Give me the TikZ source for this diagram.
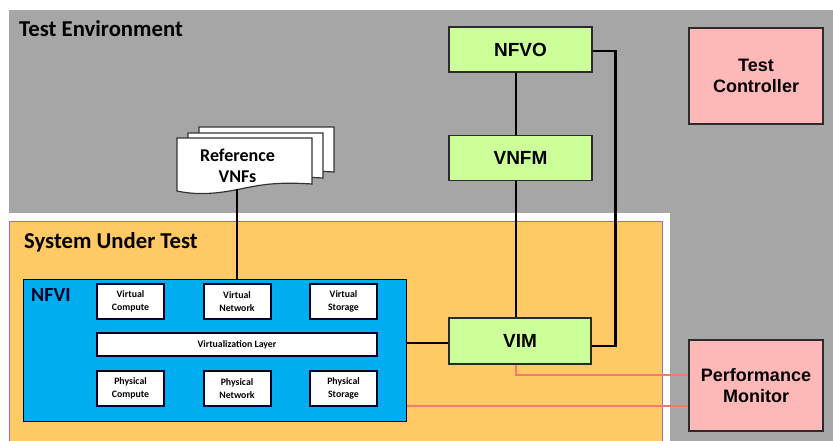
\documentclass[tikz,border=0pt]{standalone}
\usepackage{fontspec}
\newfontfamily\calib{Carlito}
\newfontfamily\arialf{Liberation Sans}
\definecolor{envgray}{HTML}{A6A6A6}
\definecolor{sutorange}{HTML}{FFC966}
\definecolor{sutedge}{HTML}{9E6FB0}
\definecolor{nfviblue}{HTML}{00AEEF}
\definecolor{boxgreen}{HTML}{CCFF99}
\definecolor{boxpink}{HTML}{FFB8B8}
\definecolor{redline}{HTML}{F47A6C}
\definecolor{darkedge}{HTML}{2B2B2B}
\tikzset{
  greenbox/.style={draw=darkedge, line width=1.3pt, fill=boxgreen, minimum width=143pt, minimum height=45pt, inner sep=0pt, font=\arialf\bfseries\fontsize{19}{22}\selectfont},
  pinkbox/.style={draw=darkedge, line width=1.3pt, fill=boxpink, minimum width=134pt, inner sep=0pt, align=center, font=\arialf\bfseries\fontsize{18}{21.5}\selectfont},
  smallbox/.style={draw=black!85!blue, line width=2pt, fill=white, minimum width=67pt, minimum height=35pt, inner sep=0pt, align=center, font=\calib\bfseries\fontsize{9.8}{12.5}\selectfont},
  conn/.style={line width=2.9pt, black},
  mon/.style={line width=2.4pt, redline},
  sheet/.style={draw=black!80, line width=1.2pt, fill=white},
  title/.style={anchor=base west, inner sep=0pt, font=\calib\bfseries\fontsize{22.7}{26}\selectfont}
}
\begin{document}
\begin{tikzpicture}[x=1pt,y=-1pt]
\useasboundingbox (0,0) rectangle (833,441);
\fill[white] (0,0) rectangle (833,441);
% environment
\fill[envgray] (9,10) rectangle (833,441);
\node[title] (envtitle) at (19,36.5) {Test Environment};
% SUT
\fill[white] (0,213) rectangle (670,441);
\filldraw[fill=sutorange, draw=sutedge, line width=0.8pt] (9,221) rectangle (662,445);
\node[title] (suttitle) at (24,248) {System Under Test};
% NFVI
\node[draw=black!80!blue, line width=1pt, fill=nfviblue, minimum width=383pt, minimum height=142pt, inner sep=0pt] (nfvi) at (214.5,350) {};
\node[anchor=base west, inner sep=0pt, font=\calib\bfseries\fontsize{20}{24}\selectfont, text=black!85!blue] (nfvilabel) at (31,301) {NFVI};
\node[smallbox] (vc) at (130.5,301.5) {Virtual\\Compute};
\node[smallbox] (vn) at (237,301.5) {Virtual\\Network};
\node[smallbox] (vs) at (343.5,301.5) {Virtual\\Storage};
\node[smallbox, minimum width=280pt, minimum height=23pt] (vl) at (237,344.5) {Virtualization Layer};
\node[smallbox] (pc) at (130.5,388.5) {Physical\\Compute};
\node[smallbox] (pn) at (237,388.5) {Physical\\Network};
\node[smallbox] (ps) at (343.5,388.5) {Physical\\Storage};
% Reference VNFs document stack
\path[sheet] (199,127) -- (334,127) -- (334,172) .. controls (300,170) and (270,172) .. (250,177) .. controls (230,182) and (215,184) .. (199,180) -- cycle;
\path[sheet] (188,133) -- (323,133) -- (323,178) .. controls (290,176) and (260,178) .. (240,183) .. controls (220,188) and (205,190) .. (188,186) -- cycle;
\path[sheet] (177,138) -- (312,138) -- (312,184) .. controls (280,182) and (265,184) .. (245,188) .. controls (222,193) and (200,196) .. (177,191) -- cycle;
\node[align=center, inner sep=0pt, font=\calib\bfseries\fontsize{18}{21}\selectfont] (refvnf) at (237.5,166) {Reference\\VNFs};
\coordinate (docb) at (237,189.5);
% MANO
\node[greenbox] (nfvo) at (520.5,49.5) {NFVO};
\node[greenbox] (vnfm) at (520.5,158) {VNFM};
\node[greenbox, minimum width=142pt, minimum height=46pt] (vim) at (520,341) {VIM};
% test controller and monitor
\node[pinkbox, minimum height=96pt] (tc) at (756,76) {Test\\Controller};
\node[pinkbox, minimum height=91pt] (pm) at (756,385.5) {Performance\\Monitor};
% connectors
\draw[conn] (docb) -- (docb |- nfvi.north);
\draw[conn] ([xshift=-4.5pt]nfvo.south) -- ([xshift=-4.5pt]vnfm.north);
\draw[conn] ([xshift=-4.5pt]vnfm.south) -- ([xshift=-4pt]vim.north);
\draw[conn] ([yshift=-1.5pt]nfvo.east) -- ++(23,0) |- ([yshift=-5pt]vim.east);
\draw[conn] ([yshift=-2pt]vim.west) -- ([yshift=-2pt]vim.west -| nfvi.east);
\draw[mon] ([xshift=-4pt]vim.south) |- ([yshift=10.5pt]pm.west);
\draw[mon] ([yshift=-20.5pt]pm.west) -- ([yshift=-20.5pt]pm.west -| nfvi.east);
\end{tikzpicture}
\end{document}
